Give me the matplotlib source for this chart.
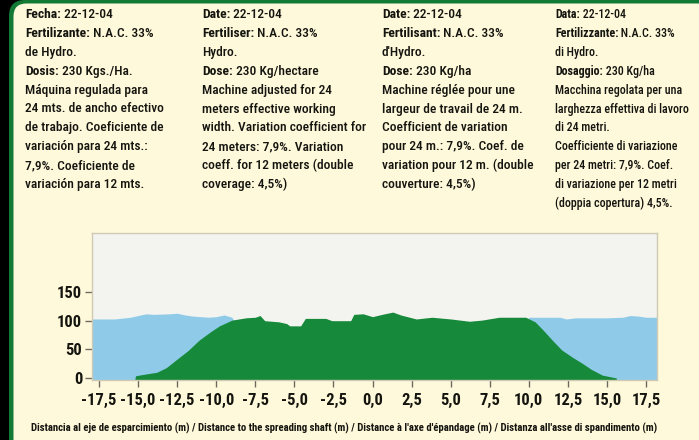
import matplotlib
matplotlib.use("Agg")
import matplotlib.pyplot as plt
from matplotlib import font_manager
from matplotlib.patches import FancyBboxPatch

# ---------------- data ----------------
col_es = [("Fecha:", " 22-12-04"), ("Fertilizante:", " N.A.C. 33%"), ("", "de Hydro."),
          ("Dosis:", " 230 Kgs./Ha."), ("", "Máquina regulada para"),
          ("", "24 mts. de ancho efectivo"), ("", "de trabajo. Coeficiente de"),
          ("", "variación para 24 mts.:"), ("", "7,9%. Coeficiente de"),
          ("", "variación para 12 mts.")]
col_en = [("Date:", " 22-12-04"), ("Fertiliser:", " N.A.C. 33%"), ("", "Hydro."),
          ("Dose:", " 230 Kg/hectare"), ("", "Machine adjusted for 24"),
          ("", "meters effective working"), ("", "width. Variation coefficient for"),
          ("", "24 meters: 7,9%. Variation"), ("", "coeff. for 12 meters (double"),
          ("", "coverage: 4,5%)")]
col_fr = [("Date:", " 22-12-04"), ("Fertilisant:", " N.A.C. 33%"), ("", "d'Hydro."),
          ("Dose:", " 230 Kg/ha"), ("", "Machine réglée pour une"),
          ("", "largeur de travail de 24 m."), ("", "Coefficient de variation"),
          ("", "pour 24 m.: 7,9%. Coef. de"), ("", "variation pour 12 m. (double"),
          ("", "couverture: 4,5%)")]
col_it = [("Data:", " 22-12-04"), ("Fertilizzante:", " N.A.C. 33%"), ("", "di Hydro."),
          ("Dosaggio:", " 230 Kg/ha"), ("", "Macchina regolata per una"),
          ("", "larghezza effettiva di lavoro"), ("", "di 24 metri."),
          ("", "Coefficiente di variazione"), ("", "per 24 metri: 7,9%. Coef."),
          ("", "di variazione per 12 metri"), ("", "(doppia copertura) 4,5%.")]

green_x = [-15.2, -15.15, -14.5, -13.8, -13.2, -12.6, -11.8, -11.1, -10.4, -9.8, -9.0,
           -8.1, -7.5, -7.2, -6.9, -6.0, -5.5, -5.3, -4.6, -4.3, -3.0, -2.6, -1.4, -1.2,
           -0.6, 0.0, 0.6, 1.3, 1.8, 2.8, 3.8, 5.0, 6.2, 7.0, 8.1, 9.8, 10.4, 10.9, 11.5,
           12.1, 12.8, 13.4, 14.0, 14.7, 15.6]
green_y = [0, 4, 7, 10, 18, 31, 48, 66, 80, 91, 101,
           105, 106, 109, 100, 98, 95, 91, 91, 104, 104, 100, 100, 111,
           112, 107, 111, 115, 110, 103, 106, 103, 99, 101, 106, 106, 98, 84, 66,
           49, 36, 26, 15, 5, 0]

blue_x = [-18.0, -16.5, -15.5, -15.0, -14.5, -14.0, -13.0, -12.5, -12.0, -11.5, -10.5,
          -10.0, -9.5, -9.0, -8.0, -6.5, 8.0, 9.5, 10.0, 11.0, 12.0, 12.4, 13.0, 14.0,
          15.0, 16.0, 16.5, 17.0, 17.5, 18.3]
blue_y = [103, 103, 106, 109, 112, 111, 112, 113, 110, 108, 106,
          107, 110, 106, 60, 0, 0, 80, 106, 106, 106, 103, 105, 105,
          105, 106, 109, 108, 106, 106]

x_ticks = [-17.5, -15.0, -12.5, -10.0, -7.5, -5.0, -2.5, 0.0, 2.5, 5.0, 7.5, 10.0, 12.5, 15.0, 17.5]
x_labels = ["-17,5", "-15,0", "-12,5", "-10,0", "-7,5", "-5,0", "-2,5", "0,0", "2,5", "5,0",
            "7,5", "10,0", "12,5", "15,0", "17,5"]
y_ticks = [0, 50, 100, 150]
y_labels = ["0", "50", "100", "150"]
x_title = ("Distancia al eje de esparcimiento (m) / Distance to the spreading shaft (m) / "
           "Distance à l'axe d'épandage (m) / Distanza all'asse di spandimento (m)")

# ---------------- fonts ----------------
available = {f.name for f in font_manager.fontManager.ttflist}
narrow = None
for cand in ["Liberation Sans Narrow", "DejaVu Sans Condensed", "Roboto Condensed"]:
    if cand in available:
        narrow = cand
        break
fscale = 1.0
if narrow is None:
    narrow = "Liberation Sans"
    fscale = 0.82
elif narrow != "Liberation Sans Narrow":
    fscale = 0.85
FAM = [narrow, "DejaVu Sans"]

TXT = "#15150f"
CREAM = "#fff9dc"
GREEN_BORDER = "#137a35"

# ---------------- figure ----------------
fig = plt.figure(figsize=(6.99, 4.40), dpi=100, facecolor="black")
bg = fig.add_axes([0, 0, 1, 1])
bg.set_xlim(0, 699)
bg.set_ylim(440, 0)
bg.axis("off")
bg.add_patch(FancyBboxPatch((9, 0), 760, 500, boxstyle="round,pad=0,rounding_size=16",
                            fc=GREEN_BORDER, ec="none"))
bg.add_patch(FancyBboxPatch((13.5, 3.5), 760, 500, boxstyle="round,pad=0,rounding_size=13",
                            fc=CREAM, ec="none"))

cols = [(25, col_es, 1.0), (202, col_en, 1.0), (382, col_fr, 1.0), (555, col_it, 0.89)]
line_h = 18.8
for x0, lines, k in cols:
    fs = 11.4 * fscale * k
    for i, (lab, rest) in enumerate(lines):
        y = 15 + i * line_h
        if lab:
            t = bg.text(x0, y, lab, fontsize=fs, family=FAM, fontweight="bold",
                        color=TXT, ha="left", va="center")
            bg.annotate(rest, xy=(1, 0.5), xycoords=t, fontsize=fs, family=FAM,
                        color=TXT, ha="left", va="center", fontweight="medium")
        else:
            bg.text(x0, y, rest, fontsize=fs, family=FAM, color=TXT, ha="left",
                    va="center", fontweight="medium")

bg.text(31, 428, x_title, fontsize=9.15 * fscale, family=FAM, fontweight="bold",
        color=TXT, ha="left", va="center")

# ---------------- chart ----------------
ymin, ymax = -3.5, 253
ax = fig.add_axes([92 / 699, 1 - 380 / 440, (657 - 92) / 699, (380 - 233) / 440])
ax.set_facecolor("#f3f4f0")
ax.fill_between(blue_x, blue_y, ymin, color="#8fcbe9", lw=0)
ax.fill_between(green_x, green_y, ymin, color="#17893b", lw=0)
ax.set_xlim(-17.95, 18.2)
ax.set_ylim(ymin, ymax)
for s in ax.spines.values():
    s.set_color("#cfcab4")
    s.set_linewidth(1.0)
ax.set_xticks(x_ticks)
ax.set_xticklabels(x_labels)
ax.set_yticks(y_ticks)
ax.set_yticklabels(y_labels)
ax.tick_params(axis="x", length=5, width=1, color="#6b6b60", pad=4)
ax.tick_params(axis="y", length=5, width=1, color="#6b6b60", pad=2)
for lbl in ax.get_xticklabels() + ax.get_yticklabels():
    lbl.set_family(FAM)
    lbl.set_fontsize(14 * fscale)
    lbl.set_fontweight("bold")
    lbl.set_color(TXT)

fig.savefig("out.png", dpi=100, facecolor=fig.get_facecolor())
